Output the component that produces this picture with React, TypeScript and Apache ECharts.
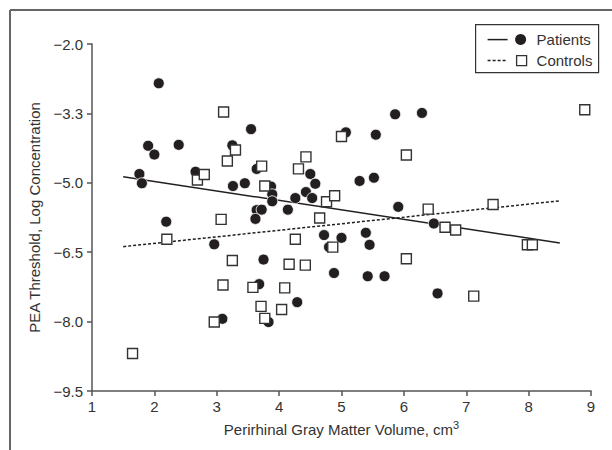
import React, { useEffect, useRef } from "react";
import * as echarts from "echarts";

const patientsX = [2.07, 1.90, 2.00, 2.39, 1.76, 1.80, 2.19, 2.66, 2.96, 3.09, 3.55, 3.25, 3.26, 3.45, 3.64, 3.64, 3.72, 3.62, 3.75, 3.68, 3.83, 3.87, 3.89, 3.89, 4.14, 4.26, 4.29, 4.43, 4.50, 4.58, 4.53, 4.72, 4.80, 4.88, 5.00, 5.07, 5.29, 5.39, 5.45, 5.42, 5.52, 5.55, 5.69, 5.86, 5.91, 6.29, 6.48, 6.54];
const patientsY = [-2.85, -4.20, -4.39, -4.18, -4.81, -5.01, -5.84, -4.76, -6.33, -7.94, -3.84, -4.19, -5.07, -5.01, -4.70, -5.59, -5.58, -5.78, -6.66, -7.19, -8.01, -5.08, -5.25, -5.40, -5.58, -5.33, -7.58, -5.20, -4.81, -5.02, -5.33, -6.13, -6.39, -6.95, -6.19, -3.91, -4.96, -6.08, -6.34, -7.02, -4.89, -3.96, -7.02, -3.52, -5.52, -3.49, -5.88, -7.39];

const controlsX = [1.65, 2.20, 2.69, 2.80, 3.11, 3.17, 3.30, 3.07, 3.25, 3.10, 2.96, 3.72, 3.77, 3.58, 3.71, 3.77, 4.04, 4.09, 4.16, 4.26, 4.31, 4.43, 4.42, 4.65, 4.76, 4.89, 4.86, 5.00, 6.04, 6.04, 6.39, 6.66, 6.83, 7.12, 7.43, 7.98, 8.06, 8.90];
const controlsY = [-8.69, -6.22, -4.94, -4.82, -3.47, -4.53, -4.29, -5.79, -6.68, -7.21, -8.01, -4.64, -5.07, -7.26, -7.67, -7.93, -7.74, -7.27, -6.76, -6.22, -4.70, -4.44, -6.78, -5.76, -5.41, -5.28, -6.39, -4.00, -4.40, -6.64, -5.57, -5.96, -6.02, -7.45, -5.47, -6.34, -6.34, -3.42];

const patientsFitX = [1.5, 8.5];
const patientsFitY = [-4.87, -6.30];
const controlsFitX = [1.5, 8.5];
const controlsFitY = [-6.38, -5.39];

const xTicks = [1, 2, 3, 4, 5, 6, 7, 8, 9];
const yTickValues = [-9.5, -8.0, -6.5, -5.0, -3.5, -2.0];
const yTickLabels = ["−9.5", "−8.0", "−6.5", "−5.0", "−3.3", "−2.0"];

const xTitle = "Perirhinal Gray Matter Volume, cm";
const xTitleSup = "3";
const yTitle = "PEA Threshold, Log Concentration";
const legendNames = ["Patients", "Controls"];

const FONT = "'Liberation Sans Narrow', 'Arial Narrow', 'Liberation Sans', Arial, sans-serif";
const INK = "#231f20";
const FS = 15;

export default function App() {
  const ref = useRef<HTMLDivElement>(null);
  useEffect(() => {
    if (!ref.current) return;
    const chart = echarts.init(ref.current, undefined, { renderer: "svg" });
    const zip = (xs: number[], ys: number[]) => xs.map((x, i) => [x, ys[i]]);
    chart.setOption({
      animation: false,
      backgroundColor: "#fff",
      grid: { left: 92, right: 21, top: 44, bottom: 59, containLabel: false },
      xAxis: {
        type: "value",
        min: 1,
        max: 9,
        interval: 1,
        splitLine: { show: false },
        axisLine: { lineStyle: { color: "#555", width: 1.5 } },
        axisTick: { show: true, length: 5, lineStyle: { color: "#555", width: 1.5 }, customValues: xTicks },
        axisLabel: { customValues: xTicks, margin: 8, fontSize: FS, fontFamily: FONT, color: "#333" },
        name: `{b|${xTitle}}{s|${xTitleSup}}`,
        nameLocation: "middle",
        nameGap: 28,
        nameTextStyle: {
          rich: {
            b: { fontSize: FS, fontFamily: FONT, color: "#333", lineHeight: 20 },
            s: { fontSize: 11, fontFamily: FONT, color: "#333", lineHeight: 12, verticalAlign: "top" },
          },
        },
      },
      yAxis: {
        type: "value",
        min: -9.5,
        max: -2.0,
        splitLine: { show: false },
        axisLine: { show: true, lineStyle: { color: "#555", width: 1.5 } },
        axisTick: { show: true, length: 5, lineStyle: { color: "#555", width: 1.5 }, customValues: yTickValues },
        axisLabel: {
          customValues: yTickValues,
          margin: 9,
          fontSize: FS,
          fontFamily: FONT,
          color: "#333",
          formatter: (v: number) => {
            const i = yTickValues.findIndex((t) => Math.abs(t - v) < 1e-6);
            return i >= 0 ? yTickLabels[i] : "";
          },
        },
        name: yTitle,
        nameLocation: "middle",
        nameGap: 42,
        nameTextStyle: { fontSize: FS, fontFamily: FONT, color: "#333" },
      },
      series: [
        {
          type: "line",
          data: zip(patientsFitX, patientsFitY),
          showSymbol: false,
          symbol: "none",
          lineStyle: { color: INK, width: 1.5, type: "solid" },
          z: 1,
          silent: true,
        },
        {
          type: "line",
          data: zip(controlsFitX, controlsFitY),
          showSymbol: false,
          symbol: "none",
          lineStyle: { color: INK, width: 1.5, type: [3, 2] },
          z: 1,
          silent: true,
        },
        {
          name: legendNames[0],
          type: "scatter",
          data: zip(patientsX, patientsY),
          symbol: "circle",
          symbolSize: 11,
          itemStyle: { color: INK, borderColor: "#fff", borderWidth: 0.8, opacity: 1 },
          z: 2,
        },
        {
          name: legendNames[1],
          type: "scatter",
          data: zip(controlsX, controlsY),
          symbol: "rect",
          symbolSize: 10,
          itemStyle: { color: "#fff", borderColor: "#333", borderWidth: 1.4, opacity: 1 },
          z: 3,
        },
      ],
      graphic: [
        { type: "line", shape: { x1: 10, y1: 10, x2: 612, y2: 10 }, style: { stroke: "#666", lineWidth: 2 } },
        { type: "line", shape: { x1: 10, y1: 10, x2: 10, y2: 450 }, style: { stroke: "#666", lineWidth: 2 } },
        {
          type: "group",
          left: 475,
          top: 24,
          children: [
            { type: "rect", shape: { x: 0, y: 0, width: 123, height: 48 }, style: { fill: "#fff", stroke: "#333", lineWidth: 1.2 } },
            { type: "line", shape: { x1: 12, y1: 15, x2: 32, y2: 15 }, style: { stroke: INK, lineWidth: 1.5 } },
            { type: "circle", shape: { cx: 45, cy: 15, r: 5.5 }, style: { fill: INK } },
            { type: "text", x: 61, y: 15, style: { text: legendNames[0], fontSize: FS, fontFamily: FONT, fill: "#333", verticalAlign: "middle" } },
            { type: "line", shape: { x1: 12, y1: 36, x2: 32, y2: 36 }, style: { stroke: INK, lineWidth: 1.5, lineDash: [3, 2] } },
            { type: "rect", shape: { x: 41, y: 31, width: 10, height: 10 }, style: { fill: "#fff", stroke: "#333", lineWidth: 1.3 } },
            { type: "text", x: 61, y: 36, style: { text: legendNames[1], fontSize: FS, fontFamily: FONT, fill: "#333", verticalAlign: "middle" } },
          ],
        },
      ],
    });
    return () => chart.dispose();
  }, []);
  return <div ref={ref} style={{ position: "fixed", left: 0, top: 0, width: 612, height: 450 }} />;
}
